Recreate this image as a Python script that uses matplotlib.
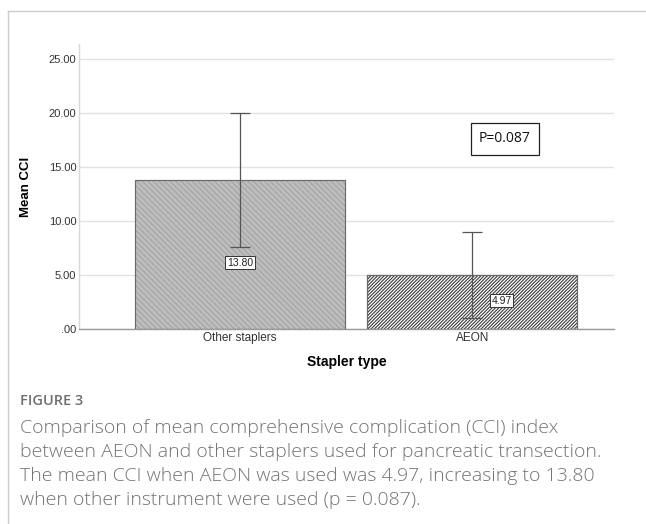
import matplotlib
matplotlib.use("Agg")
import matplotlib.pyplot as plt
from matplotlib.lines import Line2D

plt.rcParams['hatch.linewidth'] = 0.7

# data
categories = ["Other staplers", "AEON"]
means = [13.80, 4.97]
err_low = [7.55, 1.00]
err_high = [20.05, 8.94]
label_text = ["13.80", "4.97"]
yticks = [0, 5, 10, 15, 20, 25]
ytick_labels = [".00", "5.00", "10.00", "15.00", "20.00", "25.00"]
p_text = "P=0.087"
caption_head = "FIGURE 3"
caption_lines = [
    "Comparison of mean comprehensive complication (CCI) index",
    "between AEON and other staplers used for pancreatic transection.",
    "The mean CCI when AEON was used was 4.97, increasing to 13.80",
    "when other instrument were used (p = 0.087).",
]

fig = plt.figure(figsize=(6.46, 5.24), dpi=100)
W, H = 646, 524

# outer frame (left and top only)
fig.add_artist(Line2D([8 / W, 8 / W], [0, 1 - 11 / H], color="#cccccc", lw=1))
fig.add_artist(Line2D([8 / W, 1], [1 - 11 / H, 1 - 11 / H], color="#cccccc", lw=1))

# axes: x 79..614, y 44..329 px
ax = fig.add_axes([79 / W, 1 - 329 / H, (614 - 79) / W, (329 - 44) / H])
ax.set_xlim(-0.692, 1.609)
ax.set_ylim(0, 26.4)

x = [0, 1]
ax.bar(x[0], means[0], width=0.903, facecolor="#bdbdbd", edgecolor="#a2a2a2",
       hatch="\\\\\\\\\\\\", lw=0.8, zorder=2)
ax.bar(x[1], means[1], width=0.903, facecolor="#f4f4f4", edgecolor="#2e2e2e",
       hatch="//////////", lw=0.8, zorder=2)
# bar outlines
for xi, m in zip(x, means):
    ax.bar(xi, m, width=0.903, facecolor="none", edgecolor="#6a6a6a", lw=0.8, zorder=3)

for xi, m, lo, hi in zip(x, means, err_low, err_high):
    ax.errorbar(xi, m, yerr=[[m - lo], [hi - m]], fmt="none", ecolor="#555555",
                elinewidth=0.9, capsize=7, capthick=0.9, zorder=4)

label_pos = [(0.0, 6.15), (1.125, 2.6)]
for (lx, ly), t in zip(label_pos, label_text):
    ax.text(lx, ly, t, ha="center", va="center", fontsize=7.5, family="Liberation Sans",
            color="#222222", zorder=5,
            bbox=dict(boxstyle="square,pad=0.15", fc="white", ec="#333333", lw=0.7))

ax.text(1.14, 17.6, p_text, ha="center", va="center", fontsize=10, family="Open Sans",
        color="#111111", zorder=5,
        bbox=dict(boxstyle="square,pad=0.6", fc="white", ec="#222222", lw=0.9))

ax.set_yticks(yticks)
ax.set_yticklabels(ytick_labels, family="Liberation Sans", fontsize=8, color="#333333")
ax.set_xticks(x)
ax.set_xticklabels(categories, family="Liberation Sans", fontsize=8.5, color="#333333")
ax.tick_params(axis="both", length=0, pad=2)
ax.yaxis.grid(True, color="#e2e2e2", lw=1)
ax.set_axisbelow(True)
for s in ["top", "right"]:
    ax.spines[s].set_visible(False)
ax.spines["left"].set_color("#d8d8d8")
ax.spines["bottom"].set_color("#9a9a9a")
ax.spines["left"].set_linewidth(1)
ax.spines["bottom"].set_linewidth(1)

ax.set_xlabel("Stapler type", family="Liberation Sans", fontsize=10, fontweight="bold",
              labelpad=8)
ax.set_ylabel("Mean CCI", family="Liberation Sans", fontsize=9.5, fontweight="bold",
              labelpad=12)

# caption
fig.text(20 / W, 1 - 405 / H, caption_head, family="Open Sans", fontsize=10.5,
         fontweight="semibold", color="#707070", va="baseline")
for i, line in enumerate(caption_lines):
    fig.text(20 / W, 1 - (433 + 24 * i) / H, line, family="Open Sans", fontsize=14,
             fontweight="light", color="#737373", va="baseline")

fig.savefig("out.png", dpi=100)
